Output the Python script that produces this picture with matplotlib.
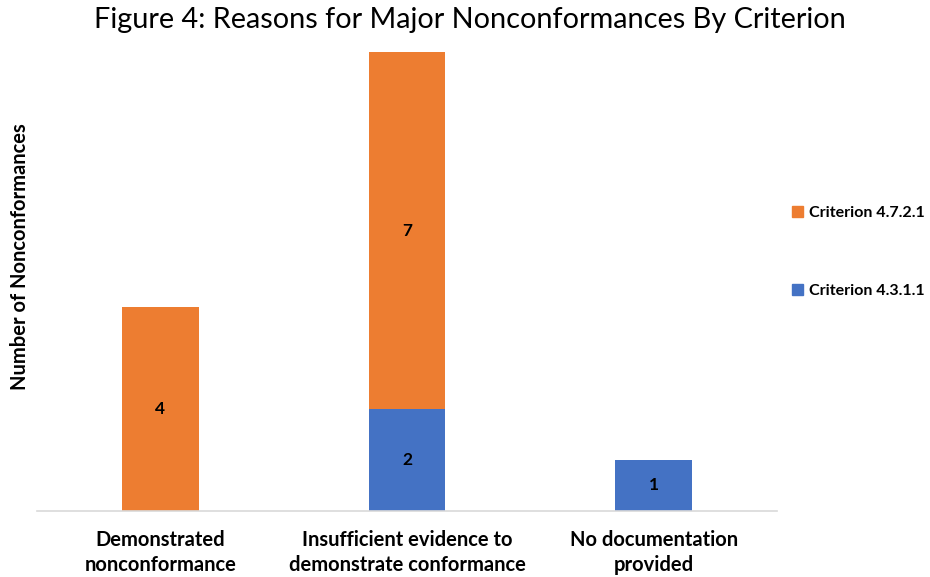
import matplotlib
matplotlib.use("Agg")
import matplotlib.pyplot as plt
from matplotlib.patches import Patch

categories = ["Demonstrated\nnonconformance", "Insufficient evidence to\ndemonstrate conformance", "No documentation\nprovided"]
crit_4311 = [0, 2, 1]
crit_4721 = [4, 7, 0]
series_names = ["Criterion 4.7.2.1", "Criterion 4.3.1.1"]
title = "Figure 4: Reasons for Major Nonconformances By Criterion"
ylabel = "Number of Nonconformances"

plt.rcParams['font.family'] = ['Lato', 'DejaVu Sans']
BLUE = "#4472C4"
ORANGE = "#ED7D31"

fig = plt.figure(figsize=(9.3, 5.77), dpi=100)
ax = fig.add_axes([37/930, 1-511/577, (777-37)/930, (511-52)/577])

x = list(range(len(categories)))
w = 0.31
ax.bar(x, crit_4311, w, color=BLUE, clip_on=False)
ax.bar(x, crit_4721, w, bottom=crit_4311, color=ORANGE, clip_on=False)

for i in x:
    if crit_4311[i]:
        ax.text(i, crit_4311[i]/2, str(crit_4311[i]), ha='center', va='center', fontsize=12.5, fontweight='bold', color='black')
    if crit_4721[i]:
        ax.text(i, crit_4311[i] + crit_4721[i]/2, str(crit_4721[i]), ha='center', va='center', fontsize=12.5, fontweight='bold', color='black')

ax.set_xlim(-0.5, 2.5)
ax.set_ylim(0, 9)
ax.set_xticks(x)
ax.set_xticklabels(categories, fontsize=14.5, fontweight='bold', linespacing=1.3)
ax.tick_params(axis='x', length=0, pad=14)
ax.set_yticks([])
for s in ['top', 'right', 'left']:
    ax.spines[s].set_visible(False)
ax.spines['bottom'].set_color('#D9D9D9')
ax.spines['bottom'].set_linewidth(1.2)

fig.text(20/930, 1-257/577, ylabel, rotation=90, ha='center', va='center', fontsize=14.5, fontweight='bold')
fig.text(470/930, 1-20/577, title, ha='center', va='center', fontsize=20.8)

handles = [Patch(color=ORANGE), Patch(color=BLUE)]
fig.legend(handles, series_names, loc='center left', bbox_to_anchor=(792/930, 1-252/577),
           frameon=False, prop={'weight': 'bold', 'size': 11.5}, borderpad=0, borderaxespad=0,
           handlelength=0.7, handleheight=0.7, handletextpad=0.35, labelspacing=4.0)

fig.savefig("out.png", dpi=100)
